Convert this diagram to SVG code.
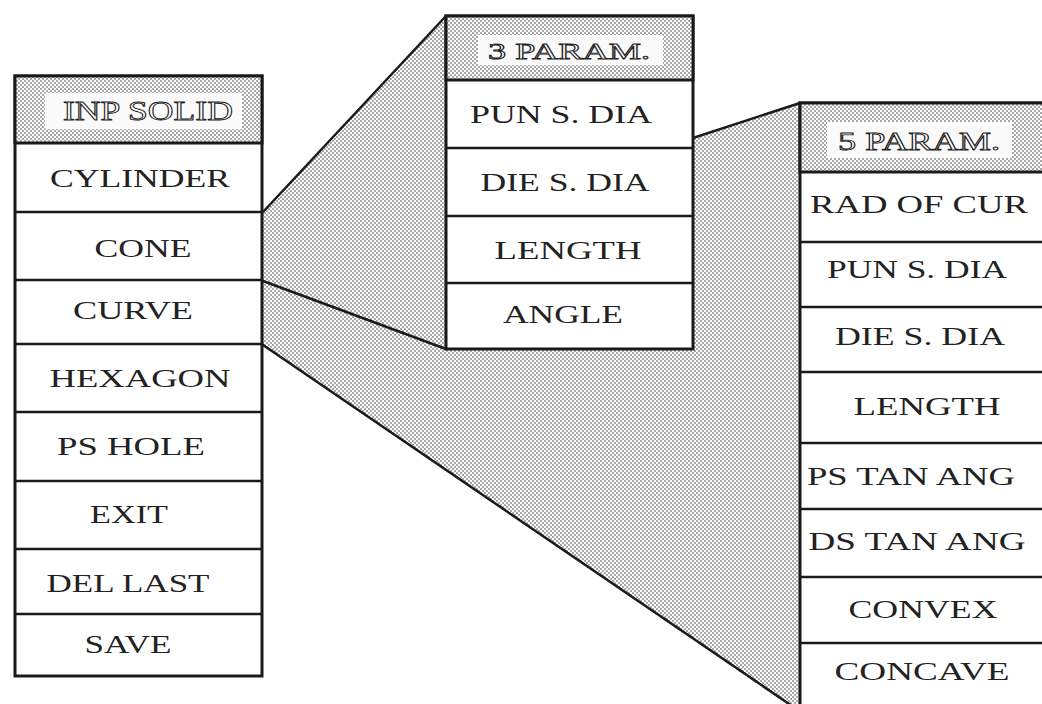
<svg xmlns="http://www.w3.org/2000/svg" width="1042" height="704" viewBox="0 0 1042 704">
<defs>
<pattern id="dots" width="4" height="4" patternUnits="userSpaceOnUse">
<rect width="4" height="4" fill="#fff"/>
<rect x="0" y="0" width="2" height="2" fill="#a8a8a8"/>
<rect x="2" y="2" width="2" height="2" fill="#a8a8a8"/>
</pattern>
</defs>
<style>
.shade{fill:url(#dots);stroke:none}
.edge{stroke:#1a1a1a;stroke-width:2.5;fill:none;stroke-linecap:round}
.box{fill:#fff;stroke:#1a1a1a;stroke-width:3}
.hdr{fill:url(#dots);stroke:#1a1a1a;stroke-width:3}
.lab{fill:#fafafa;stroke:none}
.div{stroke:#1a1a1a;stroke-width:2.5}
.t{font-family:"Liberation Serif","Times New Roman",serif;font-size:26px;fill:#222;text-anchor:middle}
.h{font-family:"Liberation Serif","Times New Roman",serif;font-size:27px;fill:#fff;stroke:#222;stroke-width:0.9;text-anchor:middle}
</style>
<rect width="1042" height="704" fill="#fff"/>
<g id="connectors">
<polygon class="shade" points="263,212 446,16 446,349 263,281"/>
<polygon class="shade" points="263,281 446,349 693,349 693,138 800,103 800,710 795,710 263,345"/>
<line class="edge" x1="263" y1="212" x2="446" y2="16"/>
<line class="edge" x1="263" y1="281" x2="446" y2="349"/>
<line class="edge" x1="693" y1="138" x2="800" y2="103"/>
<line class="edge" x1="263" y1="345" x2="795" y2="708"/>
</g>
<g id="inp-solid-menu">
<rect class="box" x="15" y="76" width="247" height="600"/>
<rect class="hdr" x="15" y="76" width="247" height="67"/>
<rect class="lab" x="45" y="93" width="197" height="36"/>
<line class="div" x1="15" y1="212" x2="262" y2="212"/>
<line class="div" x1="15" y1="280" x2="262" y2="280"/>
<line class="div" x1="15" y1="344" x2="262" y2="344"/>
<line class="div" x1="15" y1="412" x2="262" y2="412"/>
<line class="div" x1="15" y1="481" x2="262" y2="481"/>
<line class="div" x1="15" y1="549" x2="262" y2="549"/>
<line class="div" x1="15" y1="614" x2="262" y2="614"/>
<text class="h" x="148" y="120" textLength="170" lengthAdjust="spacingAndGlyphs">INP SOLID</text>
<text class="t" x="140" y="187" textLength="180" lengthAdjust="spacingAndGlyphs">CYLINDER</text>
<text class="t" x="143" y="257" textLength="97" lengthAdjust="spacingAndGlyphs">CONE</text>
<text class="t" x="133" y="319" textLength="120" lengthAdjust="spacingAndGlyphs">CURVE</text>
<text class="t" x="140" y="387" textLength="181" lengthAdjust="spacingAndGlyphs">HEXAGON</text>
<text class="t" x="131" y="455" textLength="148" lengthAdjust="spacingAndGlyphs">PS HOLE</text>
<text class="t" x="129" y="523" textLength="78" lengthAdjust="spacingAndGlyphs">EXIT</text>
<text class="t" x="128" y="592" textLength="163" lengthAdjust="spacingAndGlyphs">DEL LAST</text>
<text class="t" x="128" y="653" textLength="87" lengthAdjust="spacingAndGlyphs">SAVE</text>
</g>
<g id="three-param-menu">
<rect class="box" x="446" y="16" width="247" height="333"/>
<rect class="hdr" x="446" y="16" width="247" height="64"/>
<rect class="lab" x="478" y="35" width="185" height="30"/>
<line class="div" x1="446" y1="148" x2="693" y2="148"/>
<line class="div" x1="446" y1="216" x2="693" y2="216"/>
<line class="div" x1="446" y1="283" x2="693" y2="283"/>
<text class="h" x="569" y="59" textLength="162" lengthAdjust="spacingAndGlyphs" style="font-size:23px">3 PARAM.</text>
<text class="t" x="561" y="123" textLength="182" lengthAdjust="spacingAndGlyphs">PUN S. DIA</text>
<text class="t" x="565" y="191" textLength="169" lengthAdjust="spacingAndGlyphs">DIE S. DIA</text>
<text class="t" x="568" y="259" textLength="147" lengthAdjust="spacingAndGlyphs">LENGTH</text>
<text class="t" x="563" y="323" textLength="120" lengthAdjust="spacingAndGlyphs">ANGLE</text>
</g>
<g id="five-param-menu">
<rect class="box" x="800" y="103" width="260" height="620"/>
<rect class="hdr" x="800" y="103" width="260" height="69"/>
<rect class="lab" x="827" y="122" width="185" height="36"/>
<line class="div" x1="800" y1="242" x2="1060" y2="242"/>
<line class="div" x1="800" y1="307" x2="1060" y2="307"/>
<line class="div" x1="800" y1="372" x2="1060" y2="372"/>
<line class="div" x1="800" y1="443" x2="1060" y2="443"/>
<line class="div" x1="800" y1="509" x2="1060" y2="509"/>
<line class="div" x1="800" y1="577" x2="1060" y2="577"/>
<line class="div" x1="800" y1="643" x2="1060" y2="643"/>
<text class="h" x="919" y="150" textLength="162" lengthAdjust="spacingAndGlyphs" style="font-size:25px">5 PARAM.</text>
<text class="t" x="919" y="213" textLength="218" lengthAdjust="spacingAndGlyphs">RAD OF CUR</text>
<text class="t" x="917" y="278" textLength="180" lengthAdjust="spacingAndGlyphs">PUN S. DIA</text>
<text class="t" x="920" y="345" textLength="170" lengthAdjust="spacingAndGlyphs">DIE S. DIA</text>
<text class="t" x="927" y="415" textLength="147" lengthAdjust="spacingAndGlyphs">LENGTH</text>
<text class="t" x="911" y="485" textLength="208" lengthAdjust="spacingAndGlyphs">PS TAN ANG</text>
<text class="t" x="917" y="550" textLength="217" lengthAdjust="spacingAndGlyphs">DS TAN ANG</text>
<text class="t" x="923" y="618" textLength="149" lengthAdjust="spacingAndGlyphs">CONVEX</text>
<text class="t" x="922" y="680" textLength="175" lengthAdjust="spacingAndGlyphs">CONCAVE</text>
</g>
</svg>
